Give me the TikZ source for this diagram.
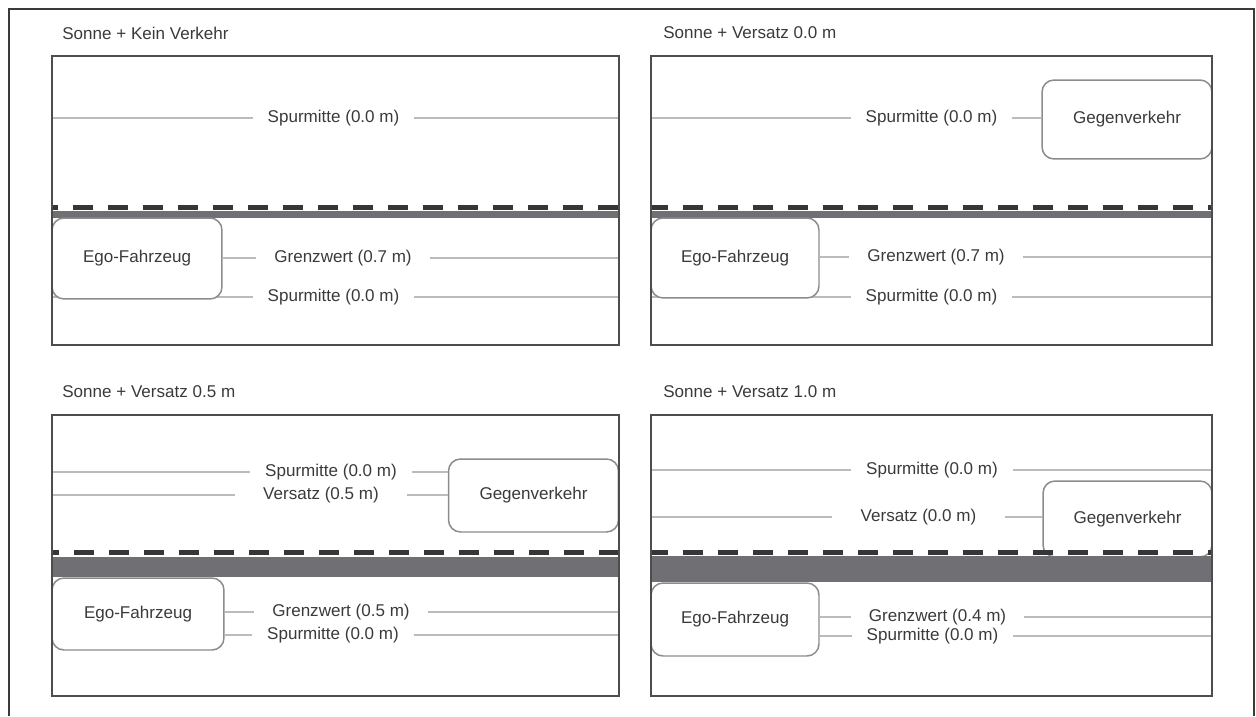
\documentclass[tikz,border=0pt]{standalone}
\usepackage{fontspec}
\setmainfont{Liberation Sans}
\definecolor{ink}{HTML}{3A3A3A}
\definecolor{frameline}{HTML}{4D4D4D}
\definecolor{guideline}{HTML}{BBBBBB}
\definecolor{boxline}{HTML}{8C8C8C}
\definecolor{asphalt}{HTML}{707074}
\definecolor{dashdark}{HTML}{363636}
\tikzset{
  panel/.style={draw=frameline,line width=1.4pt},
  heading/.style={font=\fontsize{9.7}{11}\selectfont,text=ink,anchor=west,inner sep=0pt},
  lbl/.style={font=\fontsize{9.7}{11}\selectfont,text=ink,inner sep=0pt,minimum height=0.3cm},
  car/.style={draw=boxline,fill=white,line width=0.85pt,rounded corners=0.24cm,font=\fontsize{9.7}{11}\selectfont,text=ink,inner sep=0pt},
  guide/.style={draw=guideline,line width=0.85pt},
  lanedash/.style={draw=dashdark,line width=3.2pt,dash pattern=on 0.4cm off 0.3cm},
  asph/.style={fill=asphalt}
}

\begin{document}
\begin{tikzpicture}[x=0.02cm,y=-0.02cm]
  \useasboundingbox (0,0) rectangle (1256,716);
  \draw[line width=0.7pt,draw=ink] (9,716) -- (9,9) -- (1254,9) -- (1254,716);

  \node[heading] (tA) at (62,33) {Sonne + Kein Verkehr};
  \coordinate (aL1) at (52,118);  \coordinate (aR1) at (619,118);
  \coordinate (aR2) at (619,258);
  \coordinate (aL3) at (52,297);  \coordinate (aR3) at (619,297);
  \node[lbl,minimum width=3.22cm] (aS1) at (333.5,118) {Spurmitte (0.0 m)};
  \draw[guide] (aL1) -- (aS1);
  \draw[guide] (aS1) -- (aR1);
  \fill[asph] (52,211) rectangle (619,218);
  \draw[lanedash,dash phase=0.28cm] (52,207.5) -- (619,207.5);
  \node[lbl,minimum width=3.22cm] (aS2) at (333.5,297) {Spurmitte (0.0 m)};
  \draw[guide] (aL3) -- (aS2);
  \draw[guide] (aS2) -- (aR3);
  \node[car,minimum width=3.4cm,minimum height=1.62cm] (egoA) at (137,258.5) {Ego-Fahrzeug};
  \node[lbl,minimum width=3.46cm] (aG) at (343,258) {Grenzwert (0.7 m)};
  \draw[guide] (egoA.east |- aG) -- (aG);
  \draw[guide] (aG) -- (aR2);
  \draw[panel] (52,56) rectangle (619,345);

  \node[heading] (tB) at (663,33) {Sonne + Versatz 0.0 m};
  \coordinate (bL1) at (651,118);
  \coordinate (bR2) at (1212,257);
  \coordinate (bL3) at (651,297);  \coordinate (bR3) at (1212,297);
  \node[car,minimum width=3.4cm,minimum height=1.58cm] (gegB) at (1127,119.5) {Gegenverkehr};
  \node[lbl,minimum width=3.22cm] (bS1) at (931.5,118) {Spurmitte (0.0 m)};
  \draw[guide] (bL1) -- (bS1);
  \draw[guide] (bS1) -- (bS1 -| gegB.west);
  \fill[asph] (651,211) rectangle (1212,218);
  \draw[lanedash,dash phase=0.06cm] (651,207.5) -- (1212,207.5);
  \node[lbl,minimum width=3.22cm] (bS2) at (931.5,297) {Spurmitte (0.0 m)};
  \draw[guide] (bL3) -- (bS2);
  \draw[guide] (bS2) -- (bR3);
  \node[car,minimum width=3.36cm,minimum height=1.6cm] (egoB) at (735,258) {Ego-Fahrzeug};
  \node[lbl,minimum width=3.46cm] (bG) at (936,257) {Grenzwert (0.7 m)};
  \draw[guide] (egoB.east |- bG) -- (bG);
  \draw[guide] (bG) -- (bR2);
  \draw[panel] (651,56) rectangle (1212,345);

  \node[heading] (tC) at (62,392) {Sonne + Versatz 0.5 m};
  \coordinate (cL1) at (52,472);
  \coordinate (cL2) at (52,495);
  \coordinate (cR3) at (619,612);
  \coordinate (cR4) at (619,635);
  \node[car,minimum width=3.4cm,minimum height=1.46cm] (gegC) at (533.5,495.5) {Gegenverkehr};
  \node[lbl,minimum width=3.22cm] (cS1) at (331,472) {Spurmitte (0.0 m)};
  \node[lbl,minimum width=3.44cm] (cV) at (321,495) {Versatz (0.5 m)};
  \draw[guide] (cL1) -- (cS1);
  \draw[guide] (cS1) -- (cS1 -| gegC.west);
  \draw[guide] (cL2) -- (cV);
  \draw[guide] (cV) -- (cV -| gegC.west);
  \fill[asph] (52,557) rectangle (619,577);
  \draw[lanedash,line width=2.9pt,dash phase=0.26cm] (52,552.5) -- (619,552.5);
  \node[car,minimum width=3.44cm,minimum height=1.44cm] (egoC) at (138,614) {Ego-Fahrzeug};
  \node[lbl,minimum width=3.46cm] (cG) at (341,612) {Grenzwert (0.5 m)};
  \node[lbl,minimum width=3.22cm] (cS2) at (333,635) {Spurmitte (0.0 m)};
  \draw[guide] (egoC.east |- cG) -- (cG);
  \draw[guide] (cG) -- (cR3);
  \draw[guide] (egoC.east |- cS2) -- (cS2);
  \draw[guide] (cS2) -- (cR4);
  \draw[panel] (52,415) rectangle (619,696);

  \node[heading] (tD) at (663,392) {Sonne + Versatz 1.0 m};
  \coordinate (dL1) at (651,470);  \coordinate (dR1) at (1212,470);
  \coordinate (dL2) at (651,517);
  \coordinate (dR3) at (1212,617);
  \coordinate (dR4) at (1212,636);
  \node[lbl,minimum width=3.22cm] (dS1) at (932,470) {Spurmitte (0.0 m)};
  \draw[guide] (dL1) -- (dS1);
  \draw[guide] (dS1) -- (dR1);
  \node[car,minimum width=3.38cm,minimum height=1.52cm] (gegD) at (1127.5,519) {Gegenverkehr};
  \node[lbl,minimum width=3.44cm] (dV) at (918.5,517) {Versatz (0.0 m)};
  \draw[guide] (dL2) -- (dV);
  \draw[guide] (dV) -- (dV -| gegD.west);
  \fill[asph] (651,556) rectangle (1212,582);
  \draw[lanedash,line width=2.9pt,dash phase=0.06cm] (651,552.5) -- (1212,552.5);
  \node[car,minimum width=3.36cm,minimum height=1.46cm] (egoD) at (735,619.5) {Ego-Fahrzeug};
  \node[lbl,minimum width=3.46cm] (dG) at (937.5,617) {Grenzwert (0.4 m)};
  \node[lbl,minimum width=3.22cm] (dS2) at (932.5,636) {Spurmitte (0.0 m)};
  \draw[guide] (egoD.east |- dG) -- (dG);
  \draw[guide] (dG) -- (dR3);
  \draw[guide] (egoD.east |- dS2) -- (dS2);
  \draw[guide] (dS2) -- (dR4);
  \draw[panel] (651,415) rectangle (1212,696);
\end{tikzpicture}
\end{document}
